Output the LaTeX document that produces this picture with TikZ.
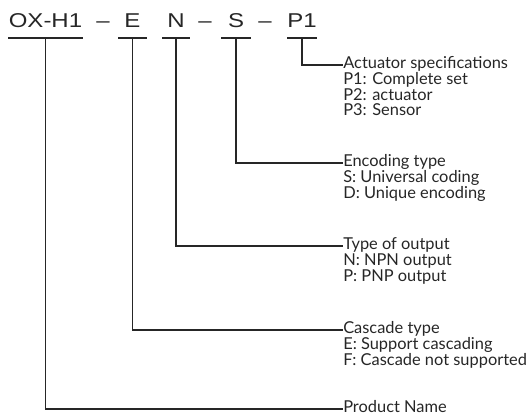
\documentclass[tikz,border=0pt]{standalone}
\usepackage{fontspec}
\setmainfont{Lato}
\newfontfamily\codefont[FakeStretch=1.2]{Liberation Sans}
\definecolor{ink}{HTML}{262626}

\begin{document}
\begin{tikzpicture}[x=0.75pt,y=-0.75pt,text=ink,
  codechar/.style={font=\codefont\fontsize{15}{18}\selectfont,anchor=base,
    inner xsep=0pt,inner ysep=8.25pt,text depth=0pt,outer sep=0pt},
  codepart/.style={codechar,minimum width=#1*0.75pt},
  head/.style={font=\fontsize{12.3}{11.6}\selectfont,anchor=west,inner sep=0pt,
    text height=8.4pt,text depth=2.6pt},
  opts/.style={font=\fontsize{12.3}{11.6}\selectfont,anchor=north west,
    inner sep=0pt,align=left},
  lead/.style={draw=ink,line width=0.95pt}]
  \useasboundingbox (0,0) rectangle (530,419);
  % model code
  \node[codepart=75] (oxh) at (45.5,27) {OX-H1};
  \node[codechar,inner ysep=0pt] (d1) at (103,27) {–};
  \node[codepart=29] (ce) at (132.5,27) {E};
  \node[codepart=28] (cn) at (176,27) {N};
  \node[codechar,inner ysep=0pt] (d2) at (205,27) {–};
  \node[codepart=30] (cs) at (236,27) {S};
  \node[codechar,inner ysep=0pt] (d3) at (265,27) {–};
  \node[codepart=30] (cp) at (302,27) {P1};
  \foreach \n in {oxh,ce,cn,cs,cp}
    \draw[lead] (\n.south west) -- (\n.south east);
  % meanings
  \node[head] (spec) at (343,65) {Actuator specifications};
  \node[opts] (specopt) at (spec.south west) {P1: Complete set\\P2: actuator\\P3: Sensor};
  \node[head] (enc) at (343,163) {Encoding type};
  \node[opts] (encopt) at (enc.south west) {S: Universal coding\\D: Unique encoding};
  \node[head] (outp) at (343,246) {Type of output};
  \node[opts] (outopt) at (outp.south west) {N: NPN output\\P: PNP output};
  \node[head] (casc) at (343,330) {Cascade type};
  \node[opts] (cascopt) at (casc.south west) {E: Support cascading\\F: Cascade not supported};
  \node[head] (pname) at (343,409) {Product Name};
  % leaders
  \draw[lead] (cp.south) |- (spec.west);
  \draw[lead] (cs.south) |- (enc.west);
  \draw[lead] (cn.south) |- (outp.west);
  \draw[lead] (ce.south) |- (casc.west);
  \draw[lead] (oxh.south) |- (pname.west);
\end{tikzpicture}
\end{document}
